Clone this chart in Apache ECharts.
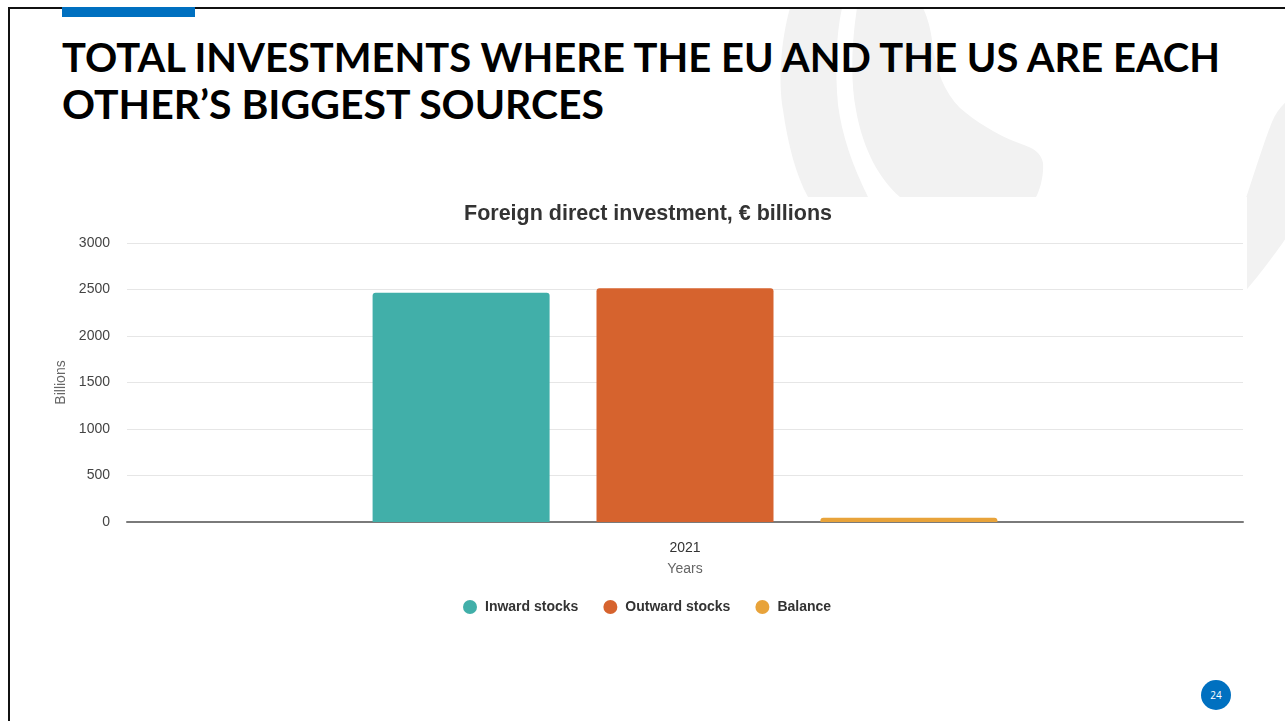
<!DOCTYPE html>
<html>
<head>
<meta charset="utf-8">
<title>Foreign direct investment</title>
<script src="https://cdn.jsdelivr.net/npm/echarts@6/dist/echarts.min.js"></script>
<style>
  html, body { margin: 0; padding: 0; background: #fff; }
  #slide { position: relative; width: 1285px; height: 721px; overflow: hidden; }
  #deco { position: absolute; left: 0; top: 0; }
  #chart { position: absolute; left: 0; top: 0; width: 1285px; height: 721px; }
</style>
</head>
<body>
<div id="slide">
  <svg id="deco" width="1285" height="721" xmlns="http://www.w3.org/2000/svg">
    <!-- light grey logo arcs behind the heading -->
    <g fill="#f2f2f2">
      <path d="M790,8 C781,40 778,80 783,110 C788,145 796,175 808,197 L868,197 C852,165 842,135 838,105 C835,70 836,35 842,8 Z"/>
      <path d="M857,8 C852,40 850,80 856,110 C863,150 880,180 900,197 L1036,197 C1040,190 1044,175 1043,163 C1041,152 1032,148 1024,145 C1000,137 976,122 960,108 C945,93 935,70 932,40 C930,25 926,14 923,8 Z"/>
      <path d="M1290,98 C1282,105 1276,112 1272,122 C1264,142 1256,168 1246,198 L1238,300 C1262,272 1278,250 1290,232 Z"/>
    </g>
    <!-- white chart panel -->
    <rect x="10" y="197" width="1237" height="440" fill="#ffffff"/>
    <!-- slide frame -->
    <rect x="8" y="7" width="1277" height="2" fill="#111"/>
    <rect x="8" y="7" width="2" height="714" fill="#111"/>
    <rect x="62" y="7" width="133" height="10" fill="#0070c0"/>
    <!-- heading -->
    <g font-family="Lato, 'Open Sans', sans-serif" font-weight="700" font-size="40.5" fill="#000">
      <text x="62" y="72" textLength="1158" lengthAdjust="spacingAndGlyphs">TOTAL INVESTMENTS WHERE THE EU AND THE US ARE EACH</text>
      <text x="62" y="119" textLength="542" lengthAdjust="spacingAndGlyphs">OTHER’S BIGGEST SOURCES</text>
    </g>
    <!-- page number -->
    <circle cx="1216" cy="695" r="15" fill="#0070c0"/>
    <text x="1216" y="699" text-anchor="middle" font-family="'Open Sans', sans-serif" font-size="10" fill="#fff">24</text>
  </svg>
  <div id="chart"></div>
</div>
<script>
// FDI stocks between the EU and the US, € billions
const years = ['2021'];
const inwardStocks = [2466];
const outwardStocks = [2513];
const balance = [47];
const seriesNames = ['Inward stocks', 'Outward stocks', 'Balance'];
const seriesColors = ['#41afa9', '#d6632e', '#e8a33a'];
const yTicks = { min: 0, max: 3000, interval: 500 };

const chart = echarts.init(document.getElementById('chart'), null, { renderer: 'canvas' });

const font = "'Liberation Sans', Arial, sans-serif";
const seriesData = [inwardStocks, outwardStocks, balance];

chart.setOption({
  backgroundColor: 'transparent',
  animation: false,
  textStyle: { fontFamily: font },
  title: {
    text: 'Foreign direct investment, € billions',
    left: 643,
    textAlign: 'center',
    top: 198,
    textStyle: { fontFamily: font, fontSize: 21.5, fontWeight: 'bold', color: '#333' }
  },
  legend: {
    data: seriesNames,
    left: 458,
    top: 595,
    icon: 'circle',
    itemWidth: 20,
    itemHeight: 14,
    itemGap: 25,
    textStyle: { fontFamily: font, fontSize: 14, fontWeight: 'bold', color: '#333' }
  },
  grid: { left: 127, right: 42, top: 243, bottom: 199, containLabel: false },
  xAxis: {
    type: 'category',
    data: years,
    name: 'Years',
    nameLocation: 'middle',
    nameGap: 40,
    nameTextStyle: { fontFamily: font, fontSize: 14, color: '#666' },
    axisLine: { lineStyle: { color: '#7a7a7a', width: 2 } },
    axisTick: { show: false },
    axisLabel: { margin: 19, fontSize: 14, color: '#333', fontFamily: font }
  },
  yAxis: {
    type: 'value',
    min: yTicks.min,
    max: yTicks.max,
    interval: yTicks.interval,
    name: 'Billions',
    nameLocation: 'middle',
    nameRotate: 90,
    nameGap: 50,
    nameTextStyle: { fontFamily: font, fontSize: 14, color: '#666' },
    axisLine: { show: false },
    axisTick: { show: false },
    axisLabel: {
      margin: 17, fontSize: 14, color: '#444', fontFamily: font,
      formatter: (v) => String(v)
    },
    splitLine: { lineStyle: { color: '#e6e6e6', width: 1 } }
  },
  series: seriesNames.map((name, i) => ({
    name,
    type: 'bar',
    data: seriesData[i],
    barWidth: 177,
    barGap: '26.5%',
    itemStyle: { color: seriesColors[i], borderRadius: [3, 3, 0, 0] }
  }))
});
</script>
</body>
</html>
